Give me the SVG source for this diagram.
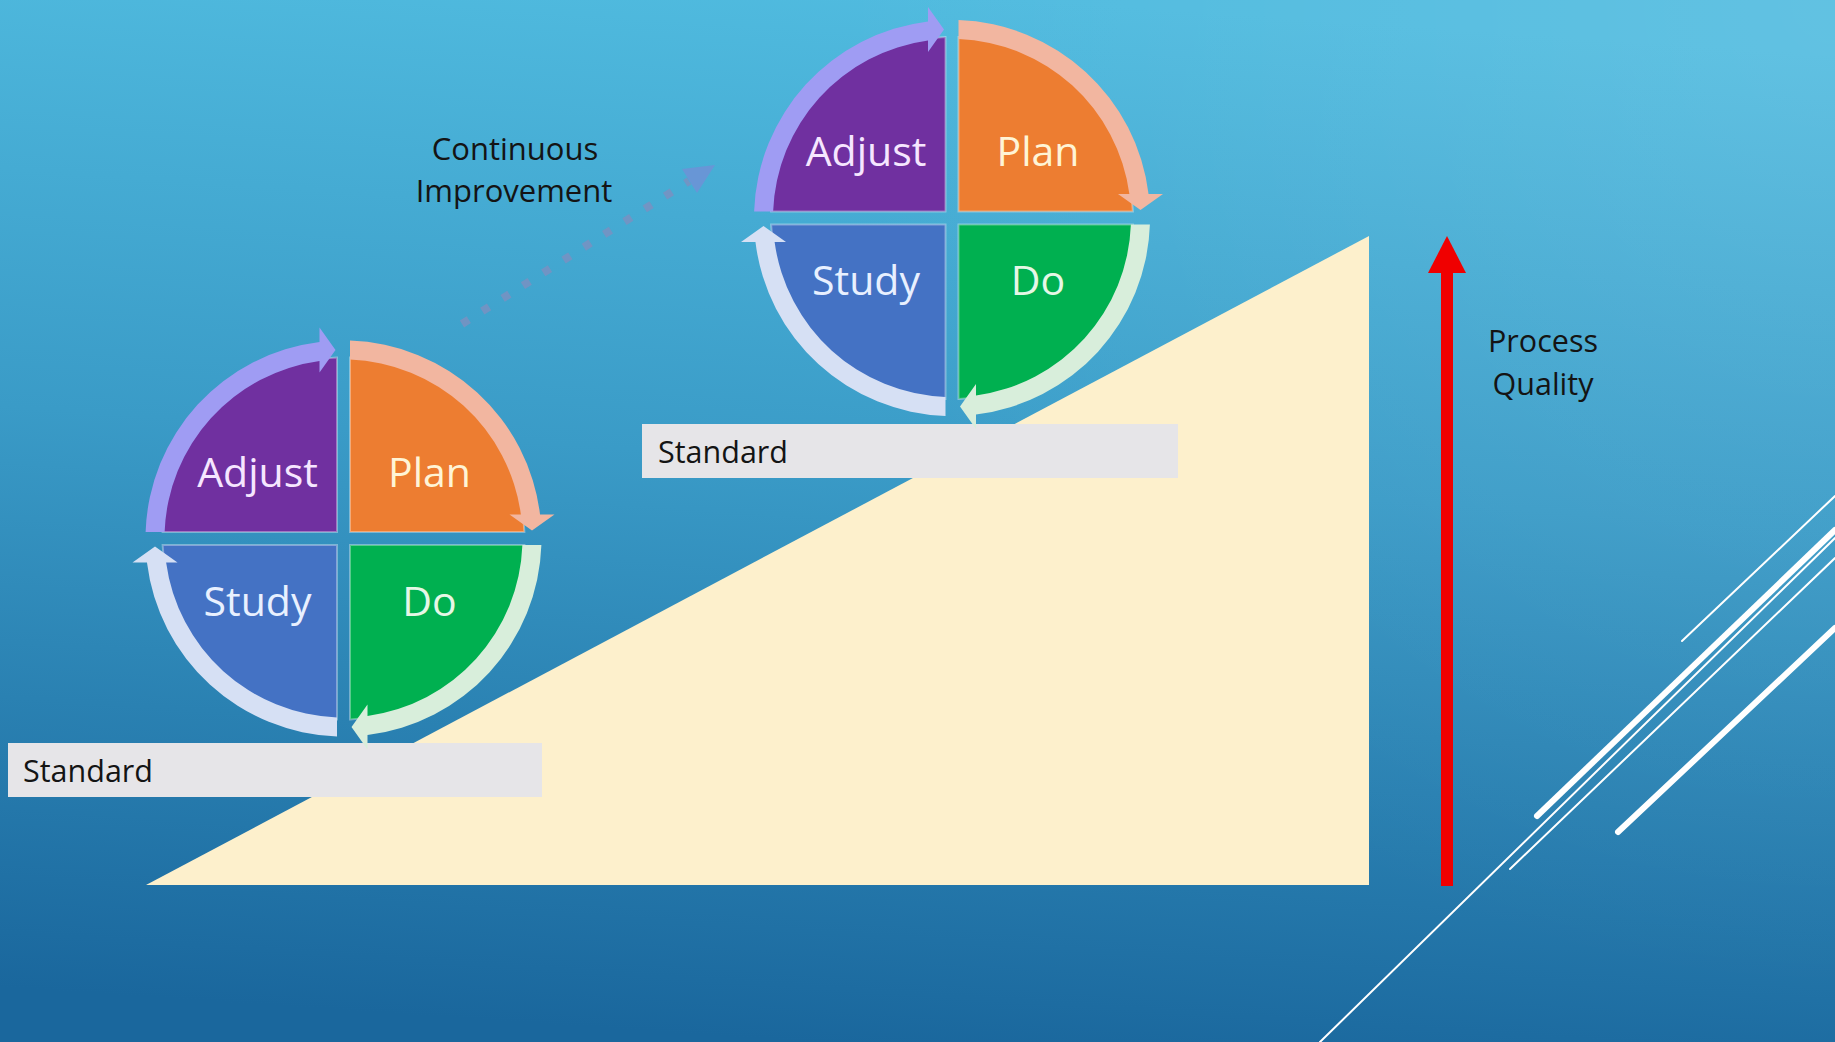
<svg xmlns="http://www.w3.org/2000/svg" xmlns:xlink="http://www.w3.org/1999/xlink" width="1835" height="1042" viewBox="0 0 1835 1042">
  <defs>
    <linearGradient id="bg" x1="0.56" y1="0" x2="0.44" y2="1">
      <stop offset="0" stop-color="#50bbdf"/>
      <stop offset="0.45" stop-color="#3a9bc7"/>
      <stop offset="1" stop-color="#1a679d"/>
    </linearGradient>
    <radialGradient id="glow" cx="1835" cy="0" r="1000" gradientUnits="userSpaceOnUse">
      <stop offset="0" stop-color="#ffffff" stop-opacity="0.10"/>
      <stop offset="1" stop-color="#ffffff" stop-opacity="0"/>
    </radialGradient>
    <!-- one quarter of the cycle wheel (top-left), rotated for the others -->
    <path id="quad" d="M-6.5,-6.5 L-6.5,-180.88 A181,181 0 0 0 -180.88,-6.5 Z"/>
    <!-- curved arrow band running clockwise around one quarter -->
    <path id="ring" d="M-197.89,-6.5 A198,198 0 0 1 -24,-196.54 L-24,-211 L-8,-188.5 L-24,-166 L-24,-177.38 A179,179 0 0 0 -178.88,-6.5 Z"/>
    <style>
      .quad { stroke: #ffffff; stroke-opacity: 0.35; stroke-width: 2; }
      .lbl { font-family: "Open Sans", "Noto Sans", sans-serif; font-size: 41px; text-anchor: middle; }
      .dark { font-family: "Open Sans", "Noto Sans", sans-serif; fill: #141414; }
      .std { fill: #e6e5e8; }
      .deco { stroke: #ffffff; stroke-linecap: round; fill: none; }
    </style>
  </defs>

  <!-- background -->
  <rect x="0" y="0" width="1835" height="1042" fill="url(#bg)"/>
  <rect x="0" y="0" width="1835" height="1042" fill="url(#glow)"/>

  <!-- decorative diagonal strokes, lower right -->
  <g id="decoration">
    <line class="deco" x1="1320" y1="1042" x2="1835" y2="538" stroke-width="2"/>
    <line class="deco" x1="1537" y1="816" x2="1835" y2="530" stroke-width="6"/>
    <line class="deco" x1="1510" y1="869" x2="1835" y2="558" stroke-width="2"/>
    <line class="deco" x1="1682" y1="641" x2="1835" y2="496" stroke-width="2"/>
    <line class="deco" x1="1618" y1="832" x2="1835" y2="628" stroke-width="6"/>
  </g>

  <!-- rising slope -->
  <g id="slope">
    <polygon points="146,885 1369,236 1369,885" fill="#fdf0cc"/>
  </g>

  <!-- baseline shelves -->
  <g id="standard-1">
    <rect class="std" x="8" y="743" width="534" height="54"/>
    <text class="dark" x="23" y="782" font-size="30.5">Standard</text>
  </g>
  <g id="standard-2">
    <rect class="std" x="642" y="424" width="536" height="54"/>
    <text class="dark" x="658" y="463" font-size="30.5">Standard</text>
  </g>

  <!-- lower cycle -->
  <g id="cycle-1" transform="translate(343.5,538.5)">
    <g id="c1-adjust">
      <use xlink:href="#quad" class="quad" fill="#7030a0"/>
      <use xlink:href="#ring" fill="#9f9cf3"/>
      <text class="lbl" x="-86" y="-52" fill="#f6e6ff">Adjust</text>
    </g>
    <g id="c1-plan">
      <use xlink:href="#quad" class="quad" fill="#ed7d31" transform="rotate(90)"/>
      <use xlink:href="#ring" fill="#f2b6a0" transform="rotate(90)"/>
      <text class="lbl" x="86" y="-52" fill="#fff4d6">Plan</text>
    </g>
    <g id="c1-do">
      <use xlink:href="#quad" class="quad" fill="#00b050" transform="rotate(180)"/>
      <use xlink:href="#ring" fill="#d8eedb" transform="rotate(180)"/>
      <text class="lbl" x="86" y="77" fill="#e6f7e6">Do</text>
    </g>
    <g id="c1-study">
      <use xlink:href="#quad" class="quad" fill="#4472c4" transform="rotate(270)"/>
      <use xlink:href="#ring" fill="#d6e0f4" transform="rotate(270)"/>
      <text class="lbl" x="-86" y="77" fill="#e8f0ff">Study</text>
    </g>
  </g>

  <!-- upper cycle -->
  <g id="cycle-2" transform="translate(952,218)">
    <g id="c2-adjust">
      <use xlink:href="#quad" class="quad" fill="#7030a0"/>
      <use xlink:href="#ring" fill="#9f9cf3"/>
      <text class="lbl" x="-86" y="-52" fill="#f6e6ff">Adjust</text>
    </g>
    <g id="c2-plan">
      <use xlink:href="#quad" class="quad" fill="#ed7d31" transform="rotate(90)"/>
      <use xlink:href="#ring" fill="#f2b6a0" transform="rotate(90)"/>
      <text class="lbl" x="86" y="-52" fill="#fff4d6">Plan</text>
    </g>
    <g id="c2-do">
      <use xlink:href="#quad" class="quad" fill="#00b050" transform="rotate(180)"/>
      <use xlink:href="#ring" fill="#d8eedb" transform="rotate(180)"/>
      <text class="lbl" x="86" y="77" fill="#e6f7e6">Do</text>
    </g>
    <g id="c2-study">
      <use xlink:href="#quad" class="quad" fill="#4472c4" transform="rotate(270)"/>
      <use xlink:href="#ring" fill="#d6e0f4" transform="rotate(270)"/>
      <text class="lbl" x="-86" y="77" fill="#e8f0ff">Study</text>
    </g>
  </g>

  <!-- connectors -->
  <g id="connectors">
    <line x1="462" y1="324" x2="689" y2="181" stroke="#7592c2" stroke-width="8" stroke-dasharray="8 16" stroke-opacity="0.9"/>
    <polygon points="715,165 697,193 682,169" fill="#6b93d6" fill-opacity="0.9"/>
    <rect x="1441" y="272" width="12" height="614" fill="#f00000"/>
    <polygon points="1447,236 1466,273 1428,273" fill="#f00000"/>
  </g>

  <!-- captions -->
  <g id="label-improvement">
    <text class="dark" x="515" y="160" font-size="31" text-anchor="middle">Continuous</text>
    <text class="dark" x="514" y="202" font-size="31" text-anchor="middle">Improvement</text>
  </g>
  <g id="label-quality">
    <text class="dark" x="1543" y="352" font-size="30.5" text-anchor="middle">Process</text>
    <text class="dark" x="1543" y="395" font-size="30.5" text-anchor="middle">Quality</text>
  </g>
</svg>
